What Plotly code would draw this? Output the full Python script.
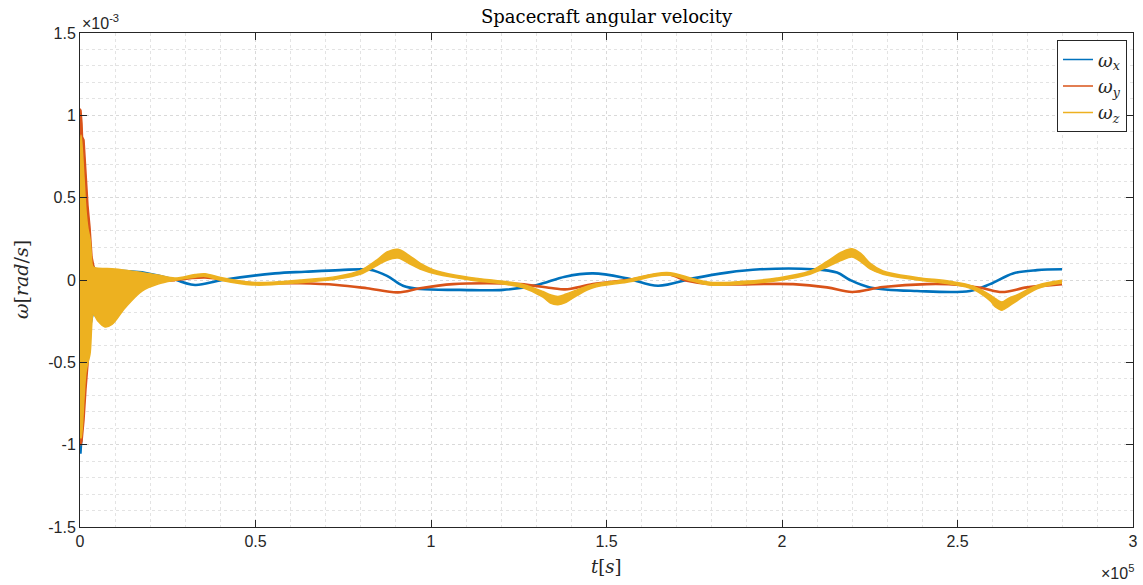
import plotly.graph_objects as go

# ---------------- data (t in s, omega in rad/s) ----------------
# omega_x : transient band (high-frequency oscillation envelope)
T_WX_BAND = [0, 285, 570, 855, 1140, 1709, 2279, 2849, 4274, 8547, 12821, 17664, 22222, 26211, 27066]
WX_UP = [0.75e-3, 0.70e-3, 0.60e-3, 0.50e-3, 0.40e-3, 0.25e-3, 0.18e-3, 0.12e-3, 0.07e-3, 0.06e-3, 0.058e-3, 0.05e-3, 0.03e-3, 0.01e-3, 0.005e-3]
WX_LO = [-1.05e-3, -1.05e-3, -0.95e-3, -0.80e-3, -0.70e-3, -0.50e-3, -0.38e-3, -0.30e-3, -0.15e-3, -0.05e-3, -0.01e-3, 0.0, 0.005e-3, 0.005e-3, 0.005e-3]
# omega_x : slow part
T_WX = [27066, 32764, 40456, 55556, 64103, 74074, 82621, 87464, 92023, 96866, 108262, 120513,
        130199, 138177, 146154, 155840, 164672, 174644, 184330, 193732, 208832, 215670,
        219373, 225071, 238462, 253561, 259259, 265812, 272650, 279772]
WX = [0.005e-3, -0.03e-3, 0.0, 0.04e-3, 0.05e-3, 0.06e-3, 0.062e-3, 0.025e-3, -0.035e-3, -0.055e-3, -0.06e-3, -0.06e-3,
      -0.03e-3, 0.02e-3, 0.04e-3, 0.01e-3, -0.035e-3, 0.01e-3, 0.045e-3, 0.065e-3, 0.065e-3, 0.045e-3,
      0.0, -0.045e-3, -0.067e-3, -0.067e-3, -0.025e-3, 0.04e-3, 0.06e-3, 0.065e-3]

# omega_y : transient band
T_WY_BAND = [0, 285, 570, 712, 1140, 1709, 2279, 2849, 3419, 4274, 5698, 12821, 27066]
WY_UP = [1.04e-3, 1.03e-3, 0.95e-3, 0.87e-3, 0.85e-3, 0.62e-3, 0.45e-3, 0.32e-3, 0.14e-3, 0.05e-3, 0.03e-3, 0.02e-3, 0.005e-3]
WY_LO = [-1.0e-3, -1.0e-3, -0.98e-3, -0.95e-3, -0.85e-3, -0.66e-3, -0.52e-3, -0.36e-3, -0.14e-3, -0.08e-3, -0.05e-3, -0.02e-3, -0.005e-3]
# omega_y : slow part
T_WY = [27066, 35613, 41311, 49003, 55556, 62678, 73219, 81766, 90598, 96866, 106268, 115954,
        125356, 134758, 138177, 146154, 155840, 167236, 172934, 179487, 203134, 212821,
        219943, 228775, 241311, 250712, 257265, 262678, 269801, 279772]
WY = [0.0, 0.015e-3, 0.0, -0.02e-3, -0.02e-3, -0.02e-3, -0.03e-3, -0.05e-3, -0.075e-3, -0.05e-3, -0.025e-3, -0.02e-3,
      -0.025e-3, -0.05e-3, -0.057e-3, -0.025e-3, 0.0, 0.035e-3, -0.005e-3, -0.025e-3, -0.025e-3, -0.045e-3,
      -0.073e-3, -0.043e-3, -0.025e-3, -0.03e-3, -0.05e-3, -0.073e-3, -0.045e-3, -0.025e-3]

# omega_z : envelope of the band over the whole run
T_WZ = [0, 285, 570, 1140, 1709, 2279, 2849, 3276, 3419, 3704, 4274, 5128, 7123, 9117, 12821, 17664, 22222,
        27066, 32764, 35613, 40456, 49003, 55556, 62678, 73219, 79772, 84615, 87464, 90598, 93732, 96866, 101709,
        111111, 120513, 126211, 131909, 134000, 136182, 138500, 141595, 146154, 155840, 167236, 174644, 179487,
        188889, 198575, 207977, 212821, 217000, 219943, 222500, 225071, 228775, 238462, 247863, 254416, 259259,
        260900, 262678, 264600, 266952, 272650, 279772]
WZ_UP = [0.70e-3, 0.88e-3, 0.82e-3, 0.62e-3, 0.42e-3, 0.31e-3, 0.25e-3, 0.14e-3, 0.10e-3, 0.08e-3, 0.075e-3, 0.072e-3, 0.07e-3, 0.068e-3, 0.06e-3, 0.045e-3, 0.03e-3,
         0.012e-3, 0.033e-3, 0.038e-3, 0.013e-3, -0.014e-3, -0.012e-3, 0.0, 0.022e-3, 0.056e-3, 0.122e-3, 0.17e-3, 0.187e-3, 0.15e-3, 0.103e-3, 0.055e-3,
         0.016e-3, -0.008e-3, -0.027e-3, -0.07e-3, -0.09e-3, -0.10e-3, -0.085e-3, -0.06e-3, -0.027e-3, 0.002e-3, 0.046e-3, 0.008e-3, -0.014e-3,
         -0.008e-3, 0.012e-3, 0.055e-3, 0.113e-3, 0.17e-3, 0.19e-3, 0.16e-3, 0.103e-3, 0.055e-3, 0.016e-3, -0.008e-3, -0.037e-3, -0.09e-3,
         -0.115e-3, -0.133e-3, -0.11e-3, -0.09e-3, -0.033e-3, -0.002e-3]
WZ_LO = [-0.95e-3, -0.96e-3, -0.92e-3, -0.72e-3, -0.56e-3, -0.50e-3, -0.45e-3, -0.30e-3, -0.25e-3, -0.21e-3, -0.22e-3, -0.25e-3, -0.285e-3, -0.27e-3, -0.17e-3, -0.067e-3, -0.025e-3,
         -0.002e-3, 0.017e-3, 0.022e-3, -0.003e-3, -0.030e-3, -0.028e-3, -0.016e-3, 0.006e-3, 0.034e-3, 0.088e-3, 0.12e-3, 0.133e-3, 0.10e-3, 0.067e-3, 0.035e-3,
         0.0, -0.024e-3, -0.047e-3, -0.104e-3, -0.14e-3, -0.15e-3, -0.135e-3, -0.094e-3, -0.047e-3, -0.014e-3, 0.03e-3, -0.008e-3, -0.030e-3,
         -0.024e-3, -0.004e-3, 0.035e-3, 0.079e-3, 0.12e-3, 0.14e-3, 0.11e-3, 0.067e-3, 0.035e-3, 0.0, -0.024e-3, -0.057e-3, -0.126e-3,
         -0.165e-3, -0.183e-3, -0.16e-3, -0.126e-3, -0.053e-3, -0.018e-3]

X_TICKS = [0, 0.5e5, 1e5, 1.5e5, 2e5, 2.5e5, 3e5]
X_TICK_TEXT = ["0", "0.5", "1", "1.5", "2", "2.5", "3"]
Y_TICKS = [-1.5e-3, -1e-3, -0.5e-3, 0, 0.5e-3, 1e-3, 1.5e-3]
Y_TICK_TEXT = ["-1.5", "-1", "-0.5", "0", "0.5", "1", "1.5"]

NAMES = ["<i>ω<sub>x</sub></i>", "<i>ω<sub>y</sub></i>", "<i>ω<sub>z</sub></i>"]
COLORS = ["#0072BD", "#D95319", "#EDB120"]

# ---------------- figure ----------------
fig = go.Figure()

# legend-only entries
for name, col in zip(NAMES, COLORS):
    fig.add_trace(go.Scatter(x=[None], y=[None], mode="lines", name=name,
                             line=dict(color=col, width=1.5), showlegend=True))


def add_band(t, up, lo, col, shape="spline"):
    fig.add_trace(go.Scatter(x=t, y=up, mode="lines", line=dict(color=col, width=1.5, shape=shape, smoothing=1.0),
                             showlegend=False, hoverinfo="skip"))
    fig.add_trace(go.Scatter(x=t, y=lo, mode="lines", line=dict(color=col, width=1.5, shape=shape, smoothing=1.0),
                             fill="tonexty", fillcolor=col, showlegend=False, hoverinfo="skip"))


def add_line(t, w, col):
    fig.add_trace(go.Scatter(x=t, y=w, mode="lines", line=dict(color=col, width=2.6, shape="spline", smoothing=1.0),
                             showlegend=False, hoverinfo="skip"))


add_band(T_WX_BAND, WX_UP, WX_LO, COLORS[0], shape="linear")
add_line(T_WX, WX, COLORS[0])
add_band(T_WY_BAND, WY_UP, WY_LO, COLORS[1], shape="linear")
add_line(T_WY, WY, COLORS[1])
add_band(T_WZ, WZ_UP, WZ_LO, COLORS[2])

sans = "Liberation Sans, Arial, sans-serif"
serif = "DejaVu Serif, Liberation Serif, serif"

axis_common = dict(
    showline=True, linecolor="#262626", linewidth=1, mirror="ticks",
    ticks="inside", ticklen=7, tickwidth=1, tickcolor="#262626",
    showgrid=True, gridcolor="#d9d9d9", griddash="dot", gridwidth=1,
    zeroline=False,
    tickfont=dict(family=sans, size=16, color="#262626"),
)

fig.update_xaxes(range=[0, 3e5], tickvals=X_TICKS, ticktext=X_TICK_TEXT,
                 minor=dict(tick0=0, dtick=1e4, showgrid=True, gridcolor="#e3e3e3", griddash="dot", ticks=""),
                 **axis_common)
fig.update_yaxes(range=[-1.5e-3, 1.5e-3], tickvals=Y_TICKS, ticktext=Y_TICK_TEXT,
                 minor=dict(tick0=0, dtick=1e-4, showgrid=True, gridcolor="#e3e3e3", griddash="dot", ticks=""),
                 **axis_common)

fig.update_layout(
    width=1143, height=585,
    margin=dict(l=80, r=5, t=33, b=58),
    paper_bgcolor="white", plot_bgcolor="white",
    showlegend=True,
    legend=dict(x=0.9943, y=0.985, xanchor="right", yanchor="top", traceorder="normal",
                bordercolor="#262626", borderwidth=1, bgcolor="white",
                font=dict(family=serif, size=18, color="#262626"),
                tracegroupgap=0, itemwidth=30),
    annotations=[
        dict(text="Spacecraft angular velocity", xref="paper", yref="paper", x=0.5, y=1,
             xanchor="center", yanchor="bottom", yshift=4, showarrow=False,
             font=dict(family=serif, size=18, color="#000000")),
        dict(text="<i>t</i>[<i>s</i>]", xref="paper", yref="paper", x=0.5, y=0,
             xanchor="center", yanchor="top", yshift=-27, showarrow=False,
             font=dict(family=serif, size=18, color="#262626")),
        dict(text="<i>ω</i>[<i>rad</i>/<i>s</i>]", xref="paper", yref="paper", x=0, y=0.5,
             xanchor="right", yanchor="middle", xshift=-46, textangle=-90, showarrow=False,
             font=dict(family=serif, size=19, color="#262626")),
        dict(text="×10<sup>-3</sup>", xref="paper", yref="paper", x=0, y=1,
             xanchor="left", yanchor="bottom", yshift=-1, showarrow=False,
             font=dict(family=sans, size=16, color="#262626")),
        dict(text="×10<sup>5</sup>", xref="paper", yref="paper", x=1, y=0,
             xanchor="right", yanchor="bottom", yshift=-57, xshift=3, showarrow=False,
             font=dict(family=sans, size=16, color="#262626")),
    ],
)

fig.write_html(
    "out.html",
    config={"displayModeBar": False},
    post_script="document.body.style.margin='0';document.documentElement.style.overflow='hidden';",
)
